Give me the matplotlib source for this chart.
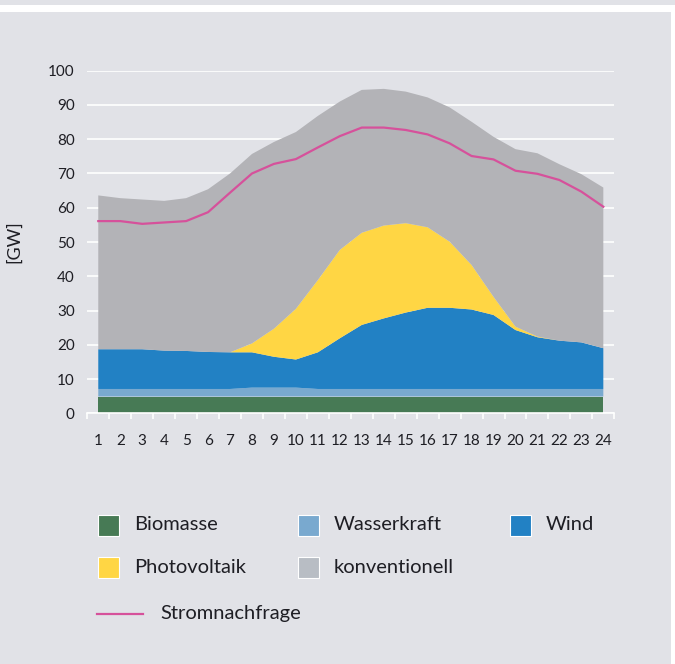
import matplotlib
matplotlib.use("Agg")
import matplotlib.pyplot as plt
from matplotlib.patches import Rectangle
from matplotlib.lines import Line2D

plt.rcParams['font.family'] = ['Lato', 'DejaVu Sans']

# Stunden des Tages
stunden = list(range(1, 25))

# Erzeugung nach Quelle [GW]
biomasse = [4.9] * 24
wasserkraft = [2.2, 2.2, 2.2, 2.2, 2.2, 2.2, 2.2, 2.6, 2.6, 2.6, 2.2, 2.2,
               2.2, 2.2, 2.2, 2.2, 2.2, 2.2, 2.2, 2.2, 2.2, 2.2, 2.2, 2.2]
wind = [11.6, 11.6, 11.6, 11.2, 11.1, 10.8, 10.7, 10.3, 9.0, 8.2, 10.7, 14.8,
        18.7, 20.6, 22.3, 23.7, 23.7, 23.2, 21.6, 17.2, 15.1, 14.1, 13.6, 11.9]
photovoltaik = [0, 0, 0, 0, 0, 0, 0, 2.6, 8.2, 14.8, 21.1, 25.8,
                26.9, 27.1, 26.1, 23.5, 19.3, 13.0, 5.3, 1.0, 0.2, 0, 0, 0]
konventionell = [44.9, 44.1, 43.7, 43.7, 44.6, 47.5, 52.2, 55.3, 54.5, 51.6, 47.9, 43.3,
                 41.7, 39.9, 38.4, 37.9, 39.2, 41.8, 46.7, 51.8, 53.5, 51.5, 49.1, 46.9]

# Stromnachfrage [GW]
nachfrage = [56.1, 56.1, 55.3, 55.7, 56.1, 58.7, 64.4, 70.0, 72.8, 74.2, 77.6, 80.9,
             83.4, 83.4, 82.7, 81.4, 78.8, 75.1, 74.1, 70.8, 69.9, 68.1, 64.7, 60.3]

labels = ["Biomasse", "Wasserkraft", "Wind", "Photovoltaik", "konventionell"]
area_colors = ["#477a55", "#79a9cf", "#2281c4", "#ffd644", "#b3b3b7"]
legend_colors = ["#477a55", "#79a9cf", "#2281c4", "#ffd644", "#b8bdc4"]
line_color = "#d6519b"
bg = "#e1e2e7"
text_color = "#1e1e24"

W, H = 675, 664
fig = plt.figure(figsize=(W / 100, H / 100), dpi=100, facecolor=bg)

# white header rule and right margin
fig.add_artist(Rectangle((0, 1 - 12 / H), 1, 7 / H, transform=fig.transFigure,
                         facecolor="white", edgecolor="none"))
fig.add_artist(Rectangle((671 / W, 0), 4 / W, 1 - 5 / H, transform=fig.transFigure,
                         facecolor="white", edgecolor="none"))

ax = fig.add_axes([87.3 / W, (H - 413.3) / H, 527 / W, 342.6 / H])
ax.set_facecolor(bg)

ax.stackplot(stunden, biomasse, wasserkraft, wind, photovoltaik, konventionell,
             colors=area_colors, linewidth=0, zorder=2)
ax.plot(stunden, nachfrage, color=line_color, lw=1.6, zorder=3)

ax.set_xlim(0.5, 24.5)
ax.set_ylim(0, 100)
ax.set_yticks(range(0, 101, 10))
ax.set_xticks(stunden)
ax.set_xticks([h + 0.5 for h in range(0, 25)], minor=True)
ax.grid(axis="y", color="white", lw=1.2, zorder=1)
for s in ["top", "right", "left"]:
    ax.spines[s].set_visible(False)
ax.spines["bottom"].set_color("white")
ax.spines["bottom"].set_linewidth(1.2)
ax.spines["bottom"].set_zorder(4)
ax.tick_params(axis="y", length=0, pad=9, labelsize=11, labelcolor=text_color)
ax.tick_params(axis="x", which="major", length=0, pad=15, labelsize=11, labelcolor=text_color)
ax.tick_params(axis="x", which="minor", length=4, width=1.2, color="white")
ax.set_ylabel("[GW]", fontsize=13, color=text_color)
ax.yaxis.set_label_coords((22 - 87.3) / 527, 0.5)

# legend
fs = 14.5
box = 21
cols = [98, 298, 510]
rows = [525, 567.5]
for i, (lab, col) in enumerate(zip(labels, legend_colors)):
    r, c = divmod(i, 3)
    x0, yc = cols[c], rows[r]
    fig.add_artist(Rectangle((x0 / W, (H - yc - box / 2) / H), box / W, box / H,
                             transform=fig.transFigure, facecolor=col,
                             edgecolor="white", lw=0.8))
    fig.text((x0 + box + 15) / W, (H - yc) / H, lab, fontsize=fs, color=text_color,
             va="center", ha="left")

yl = 614
fig.add_artist(Line2D([97.5 / W, 143 / W], [(H - yl) / H] * 2, transform=fig.transFigure,
                      color=line_color, lw=1.6))
fig.text(160 / W, (H - yl) / H, "Stromnachfrage", fontsize=fs, color=text_color,
         va="center", ha="left")

fig.savefig("out.png", dpi=100, facecolor=bg)
